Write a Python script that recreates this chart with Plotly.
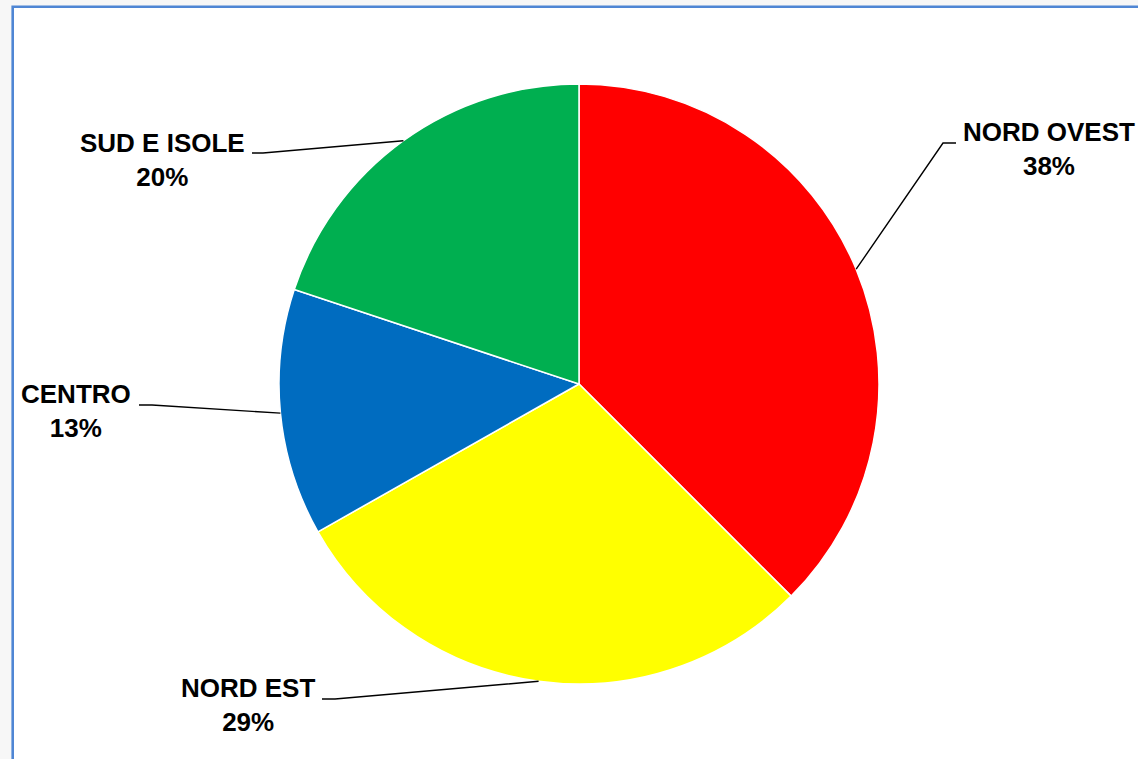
import math
import plotly.graph_objects as go

# ---- data ----
regions = ["NORD OVEST", "NORD EST", "CENTRO", "SUD E ISOLE"]
shares = [37.5, 29.3, 13.3, 19.9]
pct_labels = ["38%", "29%", "13%", "20%"]
colors = ["#FF0000", "#FFFF00", "#006CC0", "#00AF50"]

# ---- layout (pixels) ----
W, H = 1138, 759
CX, CY, R = 579, 384, 300
# label block centers and leader elbow points (layout only)
label_pos = [(1049, 149), (248, 705), (76, 411), (162, 160)]
elbow_pos = [((956, 143), (943, 143)),
             ((322, 699), (335, 699)),
             ((139, 405), (152, 405)),
             ((252, 153), (263, 153))]


def px(x):
    return x / W


def py(y):
    return 1 - y / H


fig = go.Figure()
fig.add_trace(go.Pie(
    labels=regions, values=shares, sort=False, direction="clockwise", rotation=0,
    marker=dict(colors=colors, line=dict(color="white", width=1.5)),
    textinfo="none", hoverinfo="label+percent", showlegend=False,
    domain=dict(x=[px(CX - R), px(CX + R)], y=[py(CY + R), py(CY - R)]),
))

shapes = [
    dict(type="rect", xref="paper", yref="paper", layer="below",
         x0=px(12.7), x1=px(W + 20), y0=py(H + 20), y1=py(6.7),
         fillcolor="white", line=dict(color="#4F86D4", width=2.6)),
]
annotations = []
total = sum(shares)
cum = 0
for i, v in enumerate(shares):
    mid = (cum + v / 2) / total * 2 * math.pi
    cum += v
    sx = CX + R * math.sin(mid)
    sy = CY - R * math.cos(mid)
    (ex0, ey0), (ex1, ey1) = elbow_pos[i]
    shapes.append(dict(type="path", xref="paper", yref="paper",
                       path=f"M {px(ex0)} {py(ey0)} L {px(ex1)} {py(ey1)} L {px(sx)} {py(sy)}",
                       line=dict(color="black", width=1.4)))
    lx, ly = label_pos[i]
    annotations.append(dict(
        xref="paper", yref="paper", x=px(lx), y=py(ly), xanchor="center", yanchor="middle",
        text=f"<b>{regions[i]}</b><br><b>{pct_labels[i]}</b>", showarrow=False, align="center",
        font=dict(family="Liberation Sans, Arial, sans-serif", size=26, color="black"),
    ))

fig.update_layout(
    width=W, height=H, margin=dict(l=0, r=0, t=0, b=0),
    paper_bgcolor="#F7F7F7", plot_bgcolor="white",
    shapes=shapes, annotations=annotations,
)
fig.write_html(
    "out.html",
    config={"displayModeBar": False},
    post_script="document.body.style.margin='0';document.body.style.background='#F7F7F7';"
                "document.body.style.overflow='hidden';",
)
